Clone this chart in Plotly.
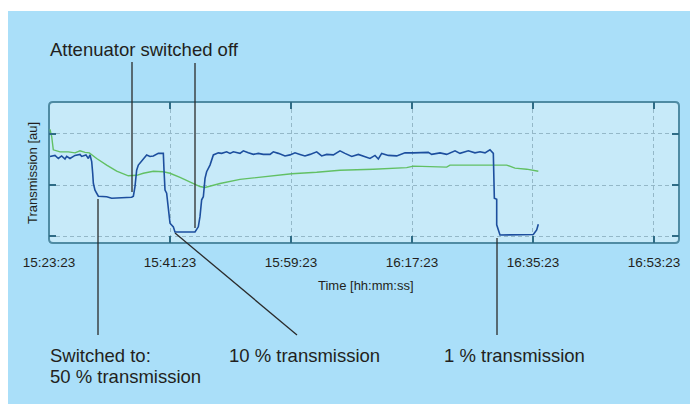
import plotly.graph_objects as go

# ---- data (minutes after 15:23:23, transmission in arbitrary units) ----
blue_min = [0.15, 0.89, 1.39, 1.88, 2.38, 2.63, 3.12, 3.87, 4.61, 4.86, 5.50, 5.85, 6.10, 6.35, 6.50, 6.60,
            6.84, 7.34, 8.58, 9.32, 12.30, 12.55, 12.79, 13.04, 13.29, 14.03, 14.53, 15.02, 15.52, 16.26,
            17.01, 17.11, 17.26, 17.50, 17.75, 18.00, 18.50, 18.74, 21.72, 22.21, 22.46, 22.71, 22.96,
            23.21, 23.45, 23.95, 24.45, 25.19, 25.69, 26.43, 26.93, 27.42, 28.41, 28.91, 29.65, 30.40,
            31.14, 31.88, 32.88, 33.37, 34.12, 35.11, 35.85, 36.60, 37.34, 38.08, 38.83, 39.82, 40.56,
            41.31, 42.30, 43.29, 44.03, 45.03, 46.02, 47.01, 47.75, 48.50, 48.99, 49.49, 50.48, 51.72,
            52.96, 54.20, 55.44, 56.43, 56.93, 58.17, 59.16, 60.40, 61.14, 62.38, 63.37, 64.12, 64.86,
            65.60, 66.10, 66.20, 66.25, 66.60, 66.60, 67.09, 71.55, 72.05, 72.55, 72.79]
blue_val = [2.56, 2.58, 2.52, 2.57, 2.51, 2.56, 2.52, 2.58, 2.60, 2.56, 2.59, 2.52, 2.59, 2.46, 2.23, 2.03,
            1.90, 1.78, 1.77, 1.74, 1.76, 1.78, 1.97, 2.29, 2.39, 2.50, 2.59, 2.56, 2.57, 2.62,
            2.62, 2.29, 1.90, 1.84, 1.51, 1.25, 1.18, 1.08, 1.08, 1.18, 1.38, 1.71, 1.77,
            2.13, 2.26, 2.39, 2.59, 2.63, 2.62, 2.65, 2.62, 2.65, 2.62, 2.67, 2.63, 2.60,
            2.62, 2.60, 2.60, 2.65, 2.62, 2.57, 2.59, 2.63, 2.60, 2.57, 2.60, 2.65, 2.57,
            2.60, 2.59, 2.67, 2.62, 2.56, 2.60, 2.56, 2.52, 2.58, 2.51, 2.62, 2.58, 2.57,
            2.63, 2.63, 2.63, 2.64, 2.60, 2.63, 2.60, 2.67, 2.62, 2.67, 2.63, 2.65, 2.63,
            2.69, 2.62, 1.97, 1.74, 1.72, 1.22, 1.02, 1.02, 1.03, 1.12, 1.23]

green_min = [0.15, 0.40, 0.64, 1.64, 2.88, 3.87, 4.61, 5.36, 6.00, 7.09, 8.58, 10.07, 11.80, 13.04, 14.03,
             15.52, 17.01, 18.00, 19.49, 21.22, 22.46, 23.21, 23.70, 25.44, 28.41, 32.38, 36.10, 39.82,
             43.29, 48.25, 53.21, 54.20, 59.16, 59.65, 68.08, 69.32, 71.06, 72.79]
green_val = [3.09, 2.95, 2.69, 2.65, 2.65, 2.63, 2.67, 2.64, 2.63, 2.52, 2.39, 2.27, 2.18, 2.19, 2.23,
             2.27, 2.26, 2.23, 2.15, 2.05, 1.97, 1.95, 1.97, 2.03, 2.11, 2.16, 2.22, 2.25,
             2.29, 2.31, 2.34, 2.37, 2.35, 2.39, 2.39, 2.33, 2.31, 2.27]

tick_vals = [0, 18, 36, 54, 72, 90]
tick_text = ["15:23:23", "15:41:23", "15:59:23", "16:17:23", "16:35:23", "16:53:23"]

# ---- layout (page pixel coordinates; the page body adds an 8px offset) ----
OFF = 8
W, H = 698 - OFF, 406 - OFF
PLOT_L, PLOT_R, PLOT_T, PLOT_B = 49, 679, 102, 243  # page pixels
L, R, T, B = PLOT_L - OFF, 698 - PLOT_R, PLOT_T - OFF, 406 - PLOT_B
PW, PH = PLOT_R - PLOT_L, PLOT_B - PLOT_T


def px(x):
    return (x - PLOT_L) / PW


def py(y):
    return (PLOT_B - y) / PH


TXT = "#231f20"
FONT = "Liberation Sans, Arial, sans-serif"
FRAME = "#4f8ba3"

fig = go.Figure()
fig.add_trace(go.Scatter(x=green_min, y=green_val, mode="lines",
                         line=dict(color="#62c064", width=1.4), hoverinfo="skip"))
fig.add_trace(go.Scatter(x=blue_min, y=blue_val, mode="lines",
                         line=dict(color="#1d4f9e", width=1.6), hoverinfo="skip"))

shapes = []
# outer light-blue panel
shapes.append(dict(type="rect", xref="paper", yref="paper", layer="below",
                   x0=px(0), x1=px(710), y0=py(404), y1=py(11),
                   fillcolor="#aadff9", line=dict(width=0)))
# rounded plot frame
r = 4
x0, x1, y0, y1 = 0.0, 1.0, 0.0, 1.0
rx, ry = r / PW, r / PH
path = (f"M {x0+rx},{y1} L {x1-rx},{y1} Q {x1},{y1} {x1},{y1-ry} "
        f"L {x1},{y0+ry} Q {x1},{y0} {x1-rx},{y0} L {x0+rx},{y0} Q {x0},{y0} {x0},{y0+ry} "
        f"L {x0},{y1-ry} Q {x0},{y1} {x0+rx},{y1} Z")
shapes.append(dict(type="path", xref="paper", yref="paper", layer="below", path=path,
                   fillcolor="#c7eaf9", line=dict(color=FRAME, width=2)))

# leader lines
lc = dict(color="#2b2b2b", width=1.3)
for (xa, ya, xb, yb) in [(132, 62, 132, 192), (195, 63, 195, 228), (98, 199, 98, 335),
                         (175, 233, 297, 335), (497, 238, 497, 335)]:
    shapes.append(dict(type="line", xref="paper", yref="paper", layer="above",
                       x0=px(xa), y0=py(ya), x1=px(xb), y1=py(yb), line=lc))

annotations = []


def txt(text, x, y, size=18.5, xanchor="left", angle=0):
    annotations.append(dict(text=text, xref="paper", yref="paper", x=px(x), y=py(y),
                            xanchor=xanchor, yanchor="middle", showarrow=False, textangle=angle,
                            font=dict(family=FONT, size=size, color=TXT)))


txt("Attenuator switched off", 48, 49)
txt("Switched to:", 48, 355)
txt("50 % transmission", 48, 376)
txt("10 % transmission", 227, 355)
txt("1 % transmission", 442, 355)
txt("Time [hh:mm:ss]", 366, 285, size=13, xanchor="center")
txt("Transmission [au]", 32, 173, size=13, xanchor="center", angle=-90)

fig.update_layout(
    width=W, height=H, margin=dict(l=L, r=R, t=T, b=B, pad=0),
    paper_bgcolor="white", plot_bgcolor="rgba(0,0,0,0)",
    showlegend=False, shapes=shapes, annotations=annotations,
    font=dict(family=FONT, color=TXT),
)
fig.update_xaxes(range=[0, 93.72], tickvals=tick_vals, ticktext=tick_text,
                 showgrid=True, gridcolor="#94b8c8", griddash="4px,3px", gridwidth=1,
                 zeroline=False, showline=False, ticks="inside", ticklen=7, tickwidth=1.5,
                 tickcolor="#2f6c86", mirror="ticks", ticklabelstandoff=9,
                 tickfont=dict(size=13.5, color=TXT, family=FONT))
fig.update_yaxes(range=[0.863, 3.627], tickvals=[1, 2, 3], showticklabels=False,
                 showgrid=True, gridcolor="#94b8c8", griddash="4px,3px", gridwidth=1,
                 zeroline=False, showline=False, ticks="inside", ticklen=7, tickwidth=1.5,
                 tickcolor="#2f6c86", mirror="ticks")

fig.write_html("out.html")
